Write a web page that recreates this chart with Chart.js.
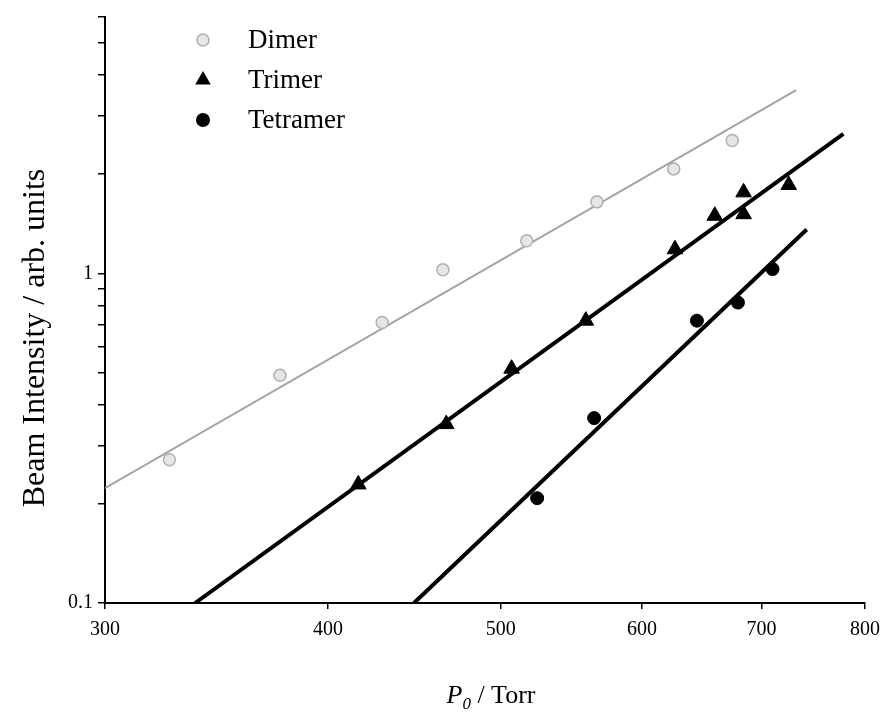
<!DOCTYPE html>
<html>
<head>
<meta charset="utf-8">
<script src="https://cdn.jsdelivr.net/npm/chart.js@4.4.0/dist/chart.umd.min.js"></script>
<style>
  html, body { margin: 0; padding: 0; background: #fff; }
  #wrap { width: 889px; height: 716px; }
</style>
</head>
<body>
<div id="wrap"><canvas id="chart" width="889" height="716"></canvas></div>
<script>
// axis ticks
const xTicks = [300, 400, 500, 600, 700, 800];
const yTicks = [0.1, 0.2, 0.3, 0.4, 0.5, 0.6, 0.7, 0.8, 0.9, 1, 2, 3, 4, 5, 6];
const yLabels = [0.1, 1];

// measured points (P0 in Torr, intensity in arb. units)
const dimerP = [326, 376, 429, 464, 517, 566, 625, 674];
const dimerI = [0.272, 0.491, 0.710, 1.026, 1.256, 1.649, 2.076, 2.533];
const trimerP = [416, 466, 507, 558, 626, 659, 684, 684, 725];
const trimerI = [0.229, 0.349, 0.514, 0.719, 1.184, 1.496, 1.762, 1.513, 1.855];
const tetramerP = [524, 564, 644, 679, 710];
const tetramerI = [0.208, 0.364, 0.719, 0.816, 1.031];

// fit line end points
const dimerFitP = [300, 732];
const dimerFitI = [0.223, 3.60];
const trimerFitP = [337, 778];
const trimerFitI = [0.1, 2.65];
const tetramerFitP = [447, 742];
const tetramerFitI = [0.1, 1.36];

const serif = "'Liberation Serif', 'Times New Roman', serif";
const dimerGray = '#a4a4a4';

function zip(xs, ys) {
  return xs.map((x, i) => ({ x: x, y: ys[i] }));
}

const legendItems = [
  { label: 'Dimer', style: 'dimer' },
  { label: 'Trimer', style: 'triangle' },
  { label: 'Tetramer', style: 'circle' }
];

function drawMarker(ctx, style, x, y) {
  ctx.beginPath();
  if (style === 'triangle') {
    const r = 9;
    ctx.moveTo(x, y - r);
    ctx.lineTo(x + r * 0.866, y + r * 0.5);
    ctx.lineTo(x - r * 0.866, y + r * 0.5);
    ctx.closePath();
    ctx.fillStyle = '#000';
    ctx.fill();
  } else if (style === 'circle') {
    ctx.arc(x, y, 7, 0, Math.PI * 2);
    ctx.fillStyle = '#000';
    ctx.fill();
  } else {
    ctx.arc(x, y, 6, 0, Math.PI * 2);
    ctx.fillStyle = '#e6e6e6';
    ctx.fill();
    ctx.lineWidth = 1.5;
    ctx.strokeStyle = '#b0b0b0';
    ctx.stroke();
  }
}

const extras = {
  id: 'extras',
  afterDraw(chart) {
    const ctx = chart.ctx;
    const area = chart.chartArea;
    ctx.save();

    // legend inside the plot, top left
    ctx.font = '27px ' + serif;
    ctx.textBaseline = 'middle';
    ctx.textAlign = 'left';
    legendItems.forEach((item, i) => {
      const y = area.top + 23 + i * 40;
      drawMarker(ctx, item.style, area.left + 98, y);
      ctx.fillStyle = '#000';
      ctx.fillText(item.label, area.left + 143, y + 1);
    });

    // y axis title, sits a little below the middle of the axis
    ctx.save();
    ctx.translate(36, (area.top + area.bottom) / 2 + 28);
    ctx.rotate(-Math.PI / 2);
    ctx.font = '32px ' + serif;
    ctx.textAlign = 'center';
    ctx.textBaseline = 'middle';
    ctx.fillStyle = '#000';
    ctx.fillText('Beam Intensity / arb. units', 0, 0);
    ctx.restore();

    // x axis title: P0 / Torr
    const parts = [
      { t: 'P', font: 'italic 26px ' + serif, dy: 0 },
      { t: '0', font: 'italic 17px ' + serif, dy: 6 },
      { t: ' / Torr', font: '26px ' + serif, dy: 0 }
    ];
    let total = 0;
    parts.forEach(p => { ctx.font = p.font; p.w = ctx.measureText(p.t).width; total += p.w; });
    let x = (area.left + area.right) / 2 - total / 2 + 6;
    const base = chart.height - 13;
    ctx.textBaseline = 'alphabetic';
    ctx.textAlign = 'left';
    ctx.fillStyle = '#000';
    parts.forEach(p => {
      ctx.font = p.font;
      ctx.fillText(p.t, x, base + p.dy);
      x += p.w;
    });
    ctx.restore();
  }
};

new Chart(document.getElementById('chart'), {
  type: 'scatter',
  data: {
    datasets: [
      {
        label: 'Dimer',
        data: zip(dimerP, dimerI),
        pointStyle: 'circle',
        pointRadius: 6,
        backgroundColor: '#e6e6e6',
        borderColor: '#b0b0b0',
        borderWidth: 1.5
      },
      {
        label: 'Trimer',
        data: zip(trimerP, trimerI),
        pointStyle: 'triangle',
        pointRadius: 9,
        backgroundColor: '#000',
        borderColor: '#000',
        borderWidth: 1
      },
      {
        label: 'Tetramer',
        data: zip(tetramerP, tetramerI),
        pointStyle: 'circle',
        pointRadius: 6.5,
        backgroundColor: '#000',
        borderColor: '#000',
        borderWidth: 1
      },
      {
        label: 'Dimer fit',
        data: zip(dimerFitP, dimerFitI),
        showLine: true,
        pointRadius: 0,
        borderColor: dimerGray,
        borderWidth: 2
      },
      {
        label: 'Trimer fit',
        data: zip(trimerFitP, trimerFitI),
        showLine: true,
        pointRadius: 0,
        borderColor: '#000',
        borderWidth: 4
      },
      {
        label: 'Tetramer fit',
        data: zip(tetramerFitP, tetramerFitI),
        showLine: true,
        pointRadius: 0,
        borderColor: '#000',
        borderWidth: 4
      }
    ]
  },
  options: {
    responsive: false,
    animation: false,
    devicePixelRatio: 1,
    layout: { padding: { left: 0, right: 20, top: 16, bottom: 0 } },
    plugins: {
      legend: { display: false },
      tooltip: { enabled: false }
    },
    scales: {
      x: {
        type: 'logarithmic',
        min: 300,
        max: 800,
        afterBuildTicks: scale => { scale.ticks = xTicks.map(v => ({ value: v })); },
        afterFit: scale => { scale.height = 113; },
        border: { color: '#000', width: 2 },
        grid: { drawOnChartArea: false, drawTicks: true, tickLength: 6, color: '#000', lineWidth: 1.5 },
        ticks: {
          color: '#000',
          padding: 9,
          maxRotation: 0,
          autoSkip: false,
          font: { family: serif, size: 20 },
          callback: v => String(v)
        }
      },
      y: {
        type: 'logarithmic',
        min: 0.1,
        max: 6,
        afterBuildTicks: scale => { scale.ticks = yTicks.map(v => ({ value: v })); },
        afterFit: scale => { scale.width = 105; },
        border: { color: '#000', width: 2 },
        grid: { drawOnChartArea: false, drawTicks: true, tickLength: 7, color: '#000', lineWidth: 1.5 },
        ticks: {
          color: '#000',
          padding: 5,
          autoSkip: false,
          font: { family: serif, size: 20 },
          callback: v => (yLabels.includes(v) ? String(v) : '')
        }
      }
    }
  },
  plugins: [extras]
});
</script>
</body>
</html>
